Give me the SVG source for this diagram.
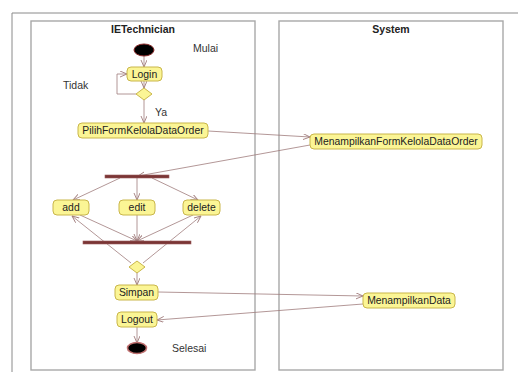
<svg xmlns="http://www.w3.org/2000/svg" width="518" height="372" viewBox="0 0 518 372">
  <defs>
    <marker id="arrow" markerWidth="8" markerHeight="8" refX="7" refY="3" orient="auto" markerUnits="userSpaceOnUse">
      <path d="M0,0 L7,3 L0,6" fill="none" stroke="#a07c7c" stroke-width="0.9"/>
    </marker>
    <style>
      .frame { fill: none; stroke: #8a8a8a; stroke-width: 1; }
      .lane { fill: none; stroke: #a8a8a8; stroke-width: 1.4; }
      .lanetitle { font-family: "Liberation Sans", Arial, sans-serif; font-size: 10.5px; font-weight: bold; fill: #222; text-anchor: middle; }
      .act rect { fill: #fbf595; stroke: #c9b64a; stroke-width: 1; }
      .act text { font-family: "Liberation Sans", Arial, sans-serif; font-size: 10.4px; fill: #222; text-anchor: middle; dominant-baseline: central; }
      .label { font-family: "Liberation Sans", Arial, sans-serif; font-size: 10.5px; fill: #333; dominant-baseline: central; }
      .dec { fill: #fbf595; stroke: #c9b64a; stroke-width: 1; }
      .bar { fill: #7a3535; stroke: #9a5a5a; stroke-width: 0.6; }
      .edge { fill: none; stroke: #a07c7c; stroke-width: 0.8; marker-end: url(#arrow); }
      .loop { fill: none; stroke: #a08a8a; stroke-width: 0.8; }
    </style>
  </defs>

  <rect width="518" height="372" fill="#ffffff"/>

  <!-- outer frame -->
  <path class="frame" d="M518,13 H12 V372"/>

  <!-- swimlanes -->
  <g id="lane-technician">
    <rect class="lane" x="31" y="21" width="224" height="349"/>
    <text class="lanetitle" x="143" y="33">IETechnician</text>
  </g>
  <g id="lane-system">
    <rect class="lane" x="279" y="21" width="224" height="349"/>
    <text class="lanetitle" x="391" y="33">System</text>
  </g>

  <!-- connectors -->
  <g id="connectors">
    <path class="edge" d="M144,56 L144,67"/>
    <path class="edge" d="M144,81 L144,88"/>
    <path class="edge" d="M136,94 H117 V74 H127"/>
    <path class="edge" d="M144,100 L144,123"/>
    <path class="edge" d="M208,131 L310,137"/>
    <path class="edge" d="M310,145 L138,176"/>
    <path class="edge" d="M120,178 L73,200"/>
    <path class="edge" d="M137,178 L137,200"/>
    <path class="edge" d="M152,178 L198,200"/>
    <path class="edge" d="M80,215 L137,241"/>
    <path class="edge" d="M137,215 L137,241"/>
    <path class="edge" d="M193,215 L137,241"/>
    <path class="edge" d="M131,263 L72,216"/>
    <path class="edge" d="M143,263 L201,216"/>
    <path class="edge" d="M137,273 L137,285"/>
    <path class="edge" d="M158,292 L363,296"/>
    <path class="edge" d="M363,304 L157,320"/>
    <path class="edge" d="M137,327 L137,343"/>
  </g>

  <!-- nodes -->
  <g id="start">
    <ellipse cx="144" cy="50" rx="10" ry="6" fill="#000" stroke="#8b2a2a" stroke-width="1"/>
  </g>
  <text class="label" x="193" y="48">Mulai</text>

  <g id="login" class="act">
    <rect x="127" y="67" width="35" height="14" rx="4"/>
    <text x="144.5" y="74">Login</text>
  </g>
  <text class="label" x="63" y="85">Tidak</text>

  <g id="decision-login">
    <polygon class="dec" points="144,88 152,94 144,100 136,94"/>
  </g>
  <text class="label" x="155" y="112">Ya</text>

  <g id="pilih-form" class="act">
    <rect x="78" y="123" width="130" height="15" rx="4"/>
    <text x="143" y="130.5">PilihFormKelolaDataOrder</text>
  </g>

  <g id="tampil-form" class="act">
    <rect x="310" y="134" width="172" height="15" rx="4"/>
    <text x="396" y="141.5">MenampilkanFormKelolaDataOrder</text>
  </g>

  <g id="fork">
    <rect class="bar" x="105" y="175" width="64" height="3"/>
  </g>

  <g id="add" class="act">
    <rect x="53" y="200" width="36" height="15" rx="4"/>
    <text x="71" y="207.5">add</text>
  </g>
  <g id="edit" class="act">
    <rect x="119" y="200" width="36" height="15" rx="4"/>
    <text x="137" y="207.5">edit</text>
  </g>
  <g id="delete" class="act">
    <rect x="183" y="200" width="37" height="15" rx="4"/>
    <text x="201.5" y="207.5">delete</text>
  </g>

  <g id="join">
    <rect class="bar" x="83" y="241" width="108" height="3"/>
  </g>

  <g id="decision-simpan">
    <polygon class="dec" points="137,261 145,267 137,273 129,267"/>
  </g>

  <g id="simpan" class="act">
    <rect x="115" y="285" width="43" height="15" rx="4"/>
    <text x="136.5" y="292.5">Simpan</text>
  </g>

  <g id="tampil-data" class="act">
    <rect x="363" y="293" width="92" height="15" rx="4"/>
    <text x="409" y="300.5">MenampilkanData</text>
  </g>

  <g id="logout" class="act">
    <rect x="117" y="312" width="40" height="15" rx="4"/>
    <text x="137" y="319.5">Logout</text>
  </g>

  <g id="end">
    <ellipse cx="137" cy="348" rx="9.5" ry="5.5" fill="#000" stroke="#c07070" stroke-width="1.6"/>
  </g>
  <text class="label" x="172" y="348">Selesai</text>
</svg>
